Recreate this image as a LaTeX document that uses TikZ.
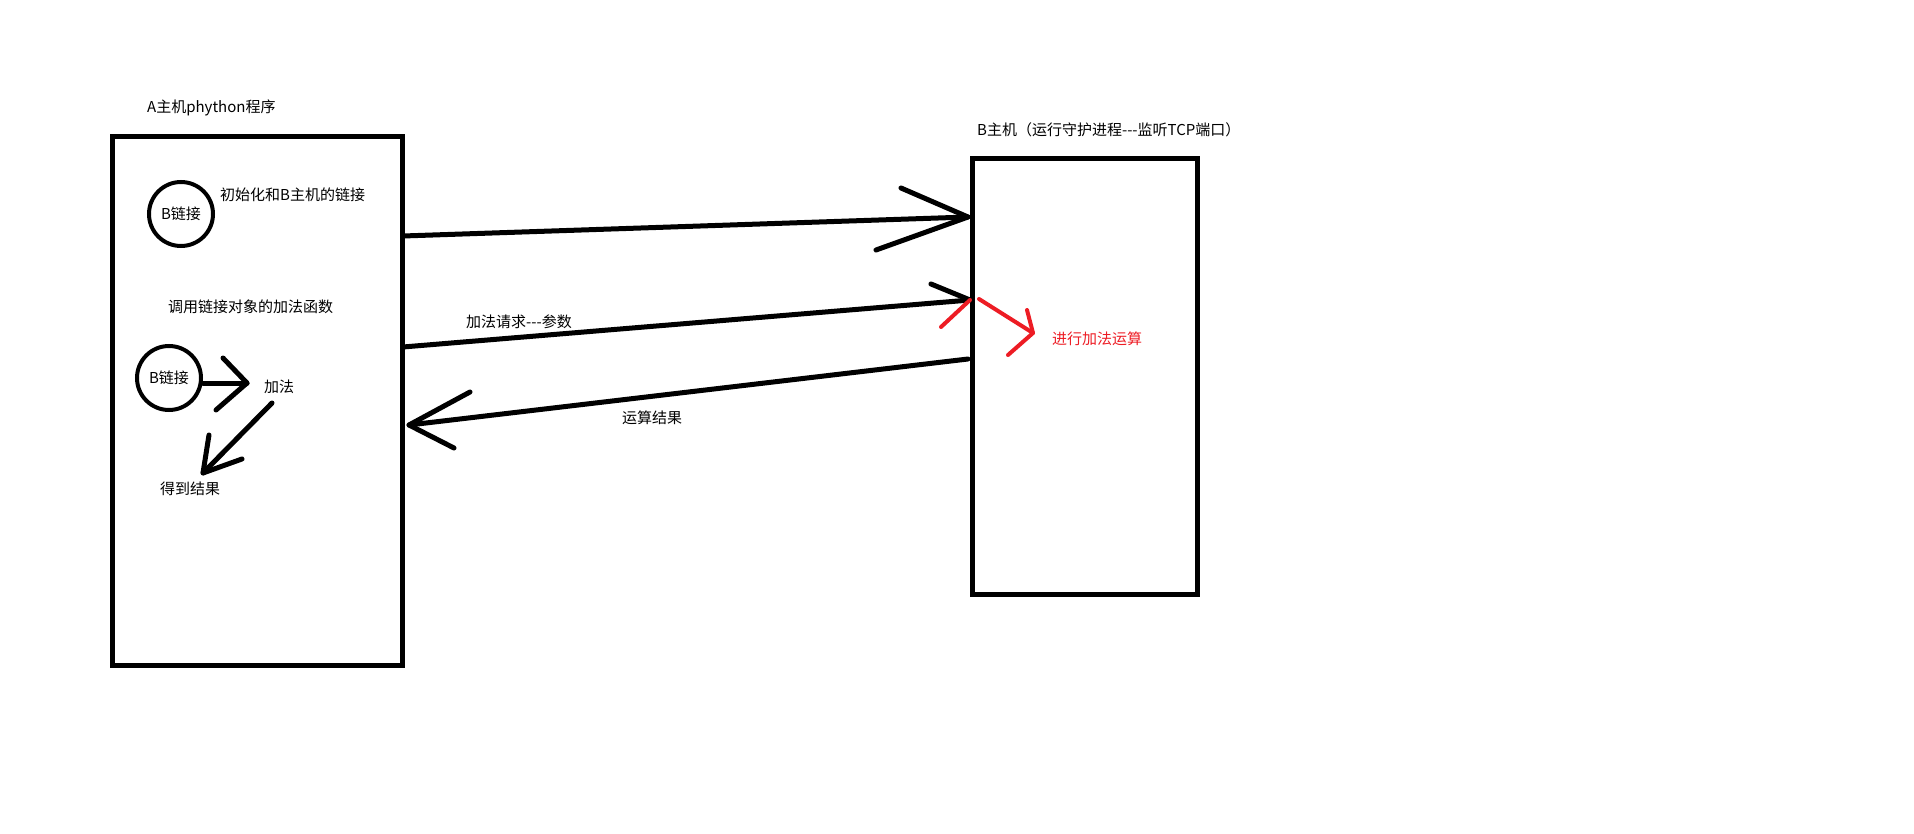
\documentclass[tikz,border=0pt]{standalone}
\usepackage{fontspec}
\setmainfont{Noto Sans CJK SC}
\usetikzlibrary{positioning}
\definecolor{penred}{RGB}{237,28,36}
\tikzset{
  hostbox/.style={
    draw,
    line width=5pt,
    inner sep=0pt
  },
  linkc/.style={
    shape=circle,
    draw,
    line width=4pt,
    minimum size=64pt,
    inner sep=0pt,
    font=\fontsize{15}{18}\selectfont
  },
  pen/.style={
    line width=5pt,
    line cap=round,
    line join=round
  },
  redpen/.style={
    pen,
    line width=4pt,
    draw=penred
  },
  txt/.style={
    anchor=west,
    inner sep=0pt,
    font=\fontsize{15}{18}\selectfont
  }
}
\begin{document}
\begin{tikzpicture}[x=1pt,y=-1pt]
\useasboundingbox (0,0) rectangle (1914,834);
% the two hosts
\node[hostbox, minimum width=290pt, minimum height=528pt] (hostA) at (257,401) {};
\node[hostbox, minimum width=225pt, minimum height=435pt] (hostB) at (1084.5,376.5) {};
\node[txt] (titleA) at (147,108) {A主机phython程序};
\node[txt] (titleB) at (977,130) {B主机（运行守护进程-{}-{}-监听TCP端口）};
% inside A
\node[linkc] (linkB1) at (181,214) {B链接};
\node[txt] (init) at (220,195) {初始化和B主机的链接};
\node[txt] (call) at (168,307) {调用链接对象的加法函数};
\node[linkc] (linkB2) at (169,378) {B链接};
\node[txt] (add) at (264,387) {加法};
\node[txt] (result) at (160,489) {得到结果};
\coordinate (addtip) at (247,383);
\coordinate (addfrom) at (272,403);
\coordinate (restip) at (203,473);
\draw[pen] (linkB2.east |- addtip) -- (addtip);
\draw[pen] ([shift={(-24,-25)}]addtip) -- (addtip) -- ([shift={(-31,27)}]addtip);
\draw[pen] (addfrom) -- (restip);
\draw[pen] ([shift={(6,-38)}]restip) -- (restip) -- ([shift={(39,-14)}]restip);
% between the hosts
\coordinate (c1) at (403,236);
\coordinate (t1) at (968,217);
\coordinate (c2) at (403,347);
\coordinate (t2) at (970,300);
\coordinate (c3) at (968,359);
\coordinate (t3) at (409,425);
\foreach \s/\t in {c1/t1,c2/t2,c3/t3}
  \draw[pen] (\s) -- (\t);
\draw[pen] ([shift={(-67,-29)}]t1) -- (t1) -- ([shift={(-92,33)}]t1);
\draw[pen] ([shift={(-39,-16)}]t2) -- (t2);
\draw[redpen] ([shift={(-29,27)}]t2) -- (t2);
\draw[pen] ([shift={(61,-33)}]t3) -- (t3) -- ([shift={(45,23)}]t3);
\node[txt] (req) at (466,322) {加法请求-{}-{}-参数};
\node[txt] (ans) at (622,418) {运算结果};
% inside B
\coordinate (r0) at (979,299);
\coordinate (rt) at (1033,333);
\draw[redpen] (r0) -- (rt);
\draw[redpen] ([shift={(-6,-23)}]rt) -- (rt) -- ([shift={(-25,22)}]rt);
\node[txt, text=penred] (calc) at (1052,339) {进行加法运算};
\end{tikzpicture}
\end{document}
